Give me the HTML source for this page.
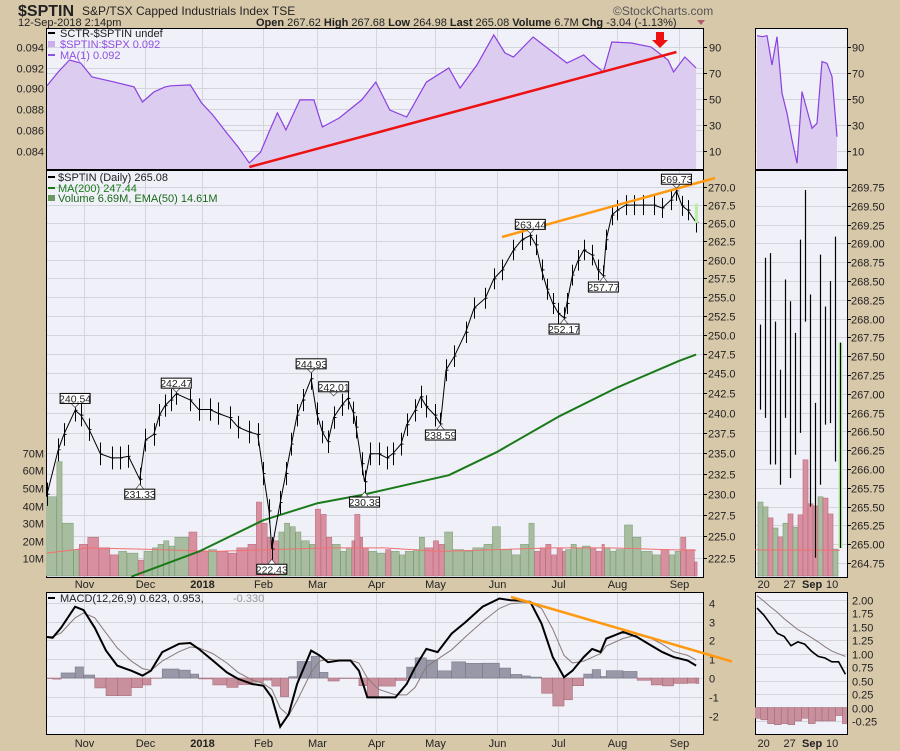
<!DOCTYPE html>
<html><head><meta charset="utf-8">
<style>
html,body{margin:0;padding:0;background:#d8c8aa;}
svg{display:block;font-family:"Liberation Sans",sans-serif;}
text{font-size:11px;fill:#222;}
</style></head>
<body>
<svg id="c" width="900" height="751" viewBox="0 0 900 751" xmlns="http://www.w3.org/2000/svg">
<rect x="0" y="0" width="900" height="751" fill="#d8c8aa"/>
<text x="18" y="16" style="font-size:16px;font-weight:bold">$SPTIN</text>
<text x="82" y="15" style="font-size:12px">S&amp;P/TSX Capped Industrials Index  TSE</text>
<text x="18" y="26" style="font-size:11px">12-Sep-2018 2:14pm</text>
<text x="256" y="26" style="font-size:11px"><tspan font-weight="bold">Open</tspan> 267.62  <tspan font-weight="bold">High</tspan> 267.68  <tspan font-weight="bold">Low</tspan> 264.98  <tspan font-weight="bold">Last</tspan> 265.08  <tspan font-weight="bold">Volume</tspan> 6.7M  <tspan font-weight="bold">Chg</tspan> -3.04 (-1.13%)</text>
<polygon points="697,20 705,20 701,25" fill="#b06070"/>
<text x="613" y="15" style="font-size:12px;fill:#555">©StockCharts.com</text>
<g id="g"></g>
</svg>
<script>
// ---- price data (trading-day index, close) ----
const priceIdx = [0,4,6,10,12,15,19,23,26,29,33,35,38,40,42,44,46,51,54,58,61,65,68,72,75,77,79,80,83,85,87,89,91,94,96,98,100,102,105,107,109,110,112,113,115,118,121,123,126,128,131,133,135,138,140,142,145,149,152,156,159,162,166,169,172,174,176,178,180,182,184,185,187,189,191,194,196,198,199,201,203,206,209,212,216,219,222,224,226,228,231];
const closes = [230.0,235.4,237.3,240.3,239.7,237.9,234.9,234.4,234.4,234.6,231.8,236.6,237.3,239.7,240.9,241.6,242.4,241.6,240.4,240.4,239.9,239.4,238.2,237.6,237.3,232.5,228.0,223.5,229.0,232.5,236.1,239.7,241.6,244.3,239.9,237.6,236.4,239.4,241.0,241.8,240.0,238.2,233.7,231.5,234.9,234.9,234.4,234.9,236.1,238.5,240.3,242.0,240.8,239.7,238.6,245.4,247.2,250.3,253.5,254.8,257.4,258.6,261.3,262.7,263.3,262.0,258.6,256.0,254.1,252.8,252.2,254.1,257.9,259.9,261.3,260.6,258.6,257.8,262.7,266.1,266.8,267.5,267.5,267.5,267.5,267.1,268.2,269.5,267.4,266.8,265.1];
const volumes = [45,65,30,15,18,22,16,12,14,13,9,14,16,18,20,17,22,25,14,15,14,13,16,18,42,30,22,20,25,30,28,25,20,18,38,35,22,18,14,16,20,35,22,16,14,13,15,14,12,14,15,22,16,20,18,25,15,14,16,18,28,15,12,18,30,14,16,18,12,16,14,15,18,16,17,16,14,18,16,14,15,29,22,14,12,15,12,14,22,15,8];
const volEmaIdx = [0,15,40,60,80,100,120,140,160,180,200,220,231];
const volEma = [13,16,15,14,15,16,16,14,15,16,16,15,14.6];
const maIdx = [30,54,77,96,112,143,160,182,203,225,231];
const ma200 = [220.3,223.2,226.9,228.9,229.9,232.3,235.1,239.5,243.2,246.6,247.4];
const annotIdx = [10,33,46,80,94,102,113,140,172,184,198,224];
const annotVals = [240.54,231.33,242.47,222.43,244.93,242.01,230.38,238.59,263.44,252.17,257.77,269.73];
const annotAbove = [1,0,1,0,1,1,0,0,1,0,0,1];
const priceTicks = [270.0,267.5,265.0,262.5,260.0,257.5,255.0,252.5,250.0,247.5,245.0,242.5,240.0,237.5,235.0,232.5,230.0,227.5,225.0,222.5];
const volTicks = [10,20,30,40,50,60,70];
const monthIdx = [13,35,55,77,96,117,138,160,182,203,225];
const monthLabels = ["Nov","Dec","2018","Feb","Mar","Apr","May","Jun","Jul","Aug","Sep"];
// ---- relative strength panel ----
const ratioIdx = [0,4,8,12,16,24,31,34,38,42,44,51,55,59,64,68,72,76,79,82,85,90,95,98,104,112,117,122,128,135,143,147,153,159,163,166,173,178,185,191,194,198,201,208,215,221,223,227,231];
const ratioVals = [0.09024,0.09157,0.09272,0.09243,0.09109,0.0906,0.09013,0.08868,0.08964,0.09013,0.09024,0.09033,0.08859,0.08743,0.0857,0.08436,0.08282,0.08387,0.0858,0.08763,0.08599,0.08888,0.08888,0.08628,0.08714,0.08888,0.0906,0.08791,0.08724,0.0906,0.09195,0.09003,0.09224,0.09513,0.09339,0.09301,0.09493,0.09388,0.09243,0.0932,0.09243,0.09157,0.09445,0.09436,0.09397,0.09272,0.09157,0.09301,0.09195];
const ratioTicks = [0.094,0.092,0.090,0.088,0.086,0.084];
const sctrTicks = [90,70,50,30,10];
// ---- MACD ----
const macdIdx = [0,2,5,10,13,17,21,25,30,34,37,41,47,51,54,59,64,68,73,77,80,83,86,89,94,97,100,104,108,111,114,118,124,128,131,135,139,144,149,155,161,165,169,172,176,180,184,187,191,194,197,199,205,210,215,219,223,228,231];
const macdVals = [2.18,2.14,2.67,3.79,3.61,2.67,1.46,0.66,0.39,0.13,0.39,1.38,1.82,1.86,1.55,0.93,0.30,-0.05,-0.32,-0.41,-1.03,-2.59,-1.93,-0.32,1.46,1.20,0.84,0.93,0.93,0.39,-1.03,-1.03,-1.03,-0.32,0.57,1.55,1.38,2.36,2.98,3.79,4.23,4.14,4.11,4.05,2.89,1.11,0.04,0.39,1.11,1.55,1.38,2.09,2.45,2.18,1.73,1.38,1.11,0.93,0.66];
const signalVals = [2.2,2.2,2.4,3.2,3.45,3.2,2.4,1.6,0.9,0.5,0.4,0.9,1.4,1.65,1.6,1.3,0.8,0.3,-0.1,-0.3,-0.6,-1.6,-2.0,-1.2,0.3,0.9,1.0,0.95,0.95,0.8,0.0,-0.6,-0.9,-0.9,-0.5,0.6,1.0,1.5,2.2,3.0,3.7,3.95,4.0,4.0,3.7,2.6,1.2,0.8,0.9,1.1,1.3,1.7,2.1,2.3,2.1,1.8,1.4,1.2,0.95];
const macdTicks = [4,3,2,1,0,-1,-2];
// ---- side (zoomed) panels ----
const sideSctr = [99,98.2,99,76.3,98.2,54.4,38.9,18.3,0.3,55.7,41.5,27.3,31.2,78.9,77.6,67.3,20.8];
const sideHigh = [267.92,268.81,268.87,267.96,267.32,268.52,268.23,267.81,269.05,269.71,268.32,266.88,268.85,268.16,268.50,269.09,267.68];
const sideLow = [266.79,266.68,266.06,266.06,265.79,266.68,265.88,266.19,266.48,267.96,265.50,264.82,265.79,266.59,266.61,266.10,264.95];
const sideVol = [16.8,15.7,13.2,10.9,8.9,12,14.1,11.1,13.9,26.4,16.4,15.9,18,17.7,14.1,6.1];
const sideUp = [1,1,0,1,0,1,0,1,0,0,0,0,1,0,0,1,0];
const sideMacd = [1.85,1.72,1.55,1.38,1.32,1.15,1.22,1.18,1.05,0.95,0.92,0.85,0.85,0.62];
const sideSignal = [2.08,1.98,1.87,1.77,1.65,1.55,1.45,1.38,1.3,1.22,1.13,1.05,1.0,0.95];
const sideHist = [-0.2,-0.23,-0.3,-0.32,-0.3,-0.32,-0.25,-0.2,-0.3,-0.25,-0.25,-0.25,-0.15,-0.3];
const sidePriceTicks = [269.75,269.50,269.25,269.00,268.75,268.50,268.25,268.00,267.75,267.50,267.25,267.00,266.75,266.50,266.25,266.00,265.75,265.50,265.25,265.00,264.75];
const sideMacdTicks = [2.00,1.75,1.50,1.25,1.00,0.75,0.50,0.25,0.00,-0.25];
const sideDayLabels = ["20","27","Sep","10"];
const sideDayPos = [-0.5,4.7,8.4,13.2];

const NS="http://www.w3.org/2000/svg";
const G=document.getElementById('g');
function mk(tag,attrs,parent){const e=document.createElementNS(NS,tag);for(const k in attrs)e.setAttribute(k,attrs[k]);(parent||G).appendChild(e);return e;}
// scales
const xOf=i=>47+i*2.81;
const yP=p=>187.3+(Math.log(270)-Math.log(p))*1914;
const yV=v=>576-v*1.76;
const yR=r=>46.7+(0.094-r)*10400;
const yC=v=>47.3+(90-v)*1.2925;
const yM=v=>678-v*18.8;
const sX=i=>760+i*5;
const yS=p=>187+(269.75-p)*75.2;
const ySV=v=>576-v*4.4;
const ySM=v=>707.5-v*53.75;
const smX=i=>757+i*6.8;

// clip paths
const defs=mk('defs',{});
[['cT',46,28,657,141],['cM',46,170,657,407],['cD',46,592,657,142],['cST',755,28,92,141],['cSM',755,170,92,407],['cSD',755,592,92,142]].forEach(a=>{const cp=mk('clipPath',{id:a[0]},defs);mk('rect',{x:a[1],y:a[2],width:a[3],height:a[4]},cp);});

function panel(x,y,w,h,name){const r=mk('rect',{x:x,y:y,width:w,height:h,fill:'#eff0f8',stroke:'#000','stroke-width':1});

}
panel(46.5,28.5,657,141,'rs-panel');
panel(46.5,170.5,657,407,'price-panel');
panel(46.5,592.5,657,142,'macd-panel');
panel(755.5,28.5,92,141,'side-rs-panel');
panel(755.5,170.5,92,407,'side-price-panel');
panel(755.5,592.5,92,142,'side-macd-panel');

function txt(x,y,s,name,anchor,extra){const t=mk('text',{x:x,y:y,'text-anchor':anchor||'start'});if(extra)t.setAttribute('style',extra);t.textContent=s;

return t;}
function grid(x1,y1,x2,y2){const l=mk('line',{x1:x1,y1:y1,x2:x2,y2:y2,stroke:'#d4d4dc','stroke-width':1});

}

monthIdx.forEach((m,k)=>{const x=Math.round(xOf(m))+0.5;
 grid(x,29,x,169);grid(x,171,x,577);grid(x,593,x,734);
 const b=monthLabels[k]==='2018'?'font-weight:bold':'';
 txt(x,588,monthLabels[k],'x-axis-label','middle',b);
 txt(x,747,monthLabels[k],'macd-x-axis-label','middle',b);});
ratioTicks.forEach(t=>{const y=Math.round(yR(t))+0.5;grid(47,y,703,y);txt(44,y+4,t.toFixed(3),'rs-left-tick','end');});
sctrTicks.forEach(t=>{const y=Math.round(yC(t))+0.5;grid(47,y,703,y);grid(756,y,847,y);txt(709,y+4,String(t),'sctr-right-tick');txt(852,y+4,String(t),'side-sctr-tick');mk('line',{x1:703,y1:y,x2:707,y2:y,stroke:'#000'});mk('line',{x1:847,y1:y,x2:851,y2:y,stroke:'#000'});});
priceTicks.forEach(t=>{const y=Math.round(yP(t))+0.5;grid(47,y,703,y);txt(708,y+4,t.toFixed(1),'price-tick');mk('line',{x1:703,y1:y,x2:707,y2:y,stroke:'#000'});});
volTicks.forEach(t=>{const y=Math.round(yV(t))+0.5;txt(44,y+4,t+'M','volume-tick','end');});
sidePriceTicks.forEach(t=>{const y=Math.round(yS(t))+0.5;grid(756,y,847,y);txt(851,y+4,t.toFixed(2),'side-price-tick');mk('line',{x1:847,y1:y,x2:851,y2:y,stroke:'#000'});});
macdTicks.forEach(t=>{const y=Math.round(yM(t))+0.5;grid(47,y,703,y);txt(709,y+4,String(t),'macd-tick');});
sideMacdTicks.forEach(t=>{const y=Math.round(ySM(t))+0.5;grid(756,y,847,y);txt(852,y+4,t.toFixed(2),'side-macd-tick');});
sideDayPos.forEach((p,k)=>{const b=sideDayLabels[k]==='Sep'?'font-weight:bold':'';txt(sX(p),588,sideDayLabels[k],'side-x-label','start',b);txt(sX(p),747,sideDayLabels[k],'side-macd-x-label','start',b);});

// ---- RS panel ----
const gT=mk('g',{'clip-path':'url(#cT)'});
let pts=ratioIdx.map((d,i)=>xOf(d).toFixed(1)+','+yR(ratioVals[i]).toFixed(1));
const rsArea=mk('polygon',{points:pts.join(' ')+' '+xOf(ratioIdx[ratioIdx.length-1])+',169 '+xOf(0)+',169',fill:'#dccdf0'},gT);


const rsLine=mk('polyline',{points:pts.join(' '),fill:'none',stroke:'#8a40e0','stroke-width':1.2},gT);


const rsTrend=mk('line',{x1:xOf(72),y1:167,x2:xOf(224),y2:52,stroke:'#ee1111','stroke-width':2.5},gT);


const arrow=mk('polygon',{points:'656,32 664,32 664,40 668,40 660,48 652,40 656,40',fill:'#ee1111'});


mk('rect',{x:48,y:32,width:7,height:2,fill:'#000'});
txt(60,37,'SCTR-$SPTIN undef','legend-sctr');
mk('rect',{x:48,y:41,width:7,height:6,fill:'#c8b0ec'});
txt(60,48,'$SPTIN:$SPX 0.092','legend-ratio','start','fill:#9050e0');
mk('rect',{x:48,y:54,width:7,height:2,fill:'#9050e0'});
txt(60,59,'MA(1) 0.092','legend-ma1','start','fill:#9050e0');

// ---- main price panel ----
const gM=mk('g',{'clip-path':'url(#cM)'});
priceIdx.forEach((d,i)=>{const x0=xOf(d)-1.4;const x1=i<priceIdx.length-1?xOf(priceIdx[i+1])-1.4:xOf(d)+1.4;
 const up=i===0||closes[i]>=closes[i-1];
 const b=mk('rect',{x:x0,y:yV(volumes[i]),width:Math.max(1.5,x1-x0-0.4),height:576-yV(volumes[i]),fill:up?'#a8bca0':'#d890a0',stroke:up?'#7a9a70':'#b86878','stroke-width':0.5},gM);
 
 });
const ve=mk('polyline',{points:volEmaIdx.map((d,i)=>xOf(d)+','+yV(volEma[i])).join(' '),fill:'none',stroke:'#f07070','stroke-width':1},gM);


const ma=mk('polyline',{points:maIdx.map((d,i)=>xOf(d)+','+yP(ma200[i]).toFixed(1)).join(' '),fill:'none',stroke:'#1a7a1a','stroke-width':2,'stroke-linejoin':'round'},gM);


const pl=mk('polyline',{points:priceIdx.map((d,i)=>xOf(d)+','+yP(closes[i]).toFixed(1)).join(' '),fill:'none',stroke:'#000','stroke-width':1},gM);


priceIdx.forEach((d,i)=>{const x=Math.round(xOf(d))+0.5;
 const b=mk('line',{x1:x,y1:yP(closes[i]+1.4),x2:x,y2:yP(closes[i]-1.4),stroke:'#000','stroke-width':1},gM);
 
 
 const t=mk('line',{x1:x,y1:yP(closes[i]),x2:x+2,y2:yP(closes[i]),stroke:'#000'},gM);
 
 });
const lastBar=mk('rect',{x:695,y:yP(267.7),width:3,height:yP(265.0)-yP(267.7),fill:'#b8f0a0'},gM);


const ot=mk('line',{x1:502,y1:237,x2:715,y2:178,stroke:'#ff9a10','stroke-width':2.5});


annotIdx.forEach((d,i)=>{const x=xOf(d);const v=annotVals[i];const py=yP(v);const up=annotAbove[i];
 const by=up?py-15:py+6;
 const tri=mk('polyline',{points:up?(x-4)+','+(by+10)+' '+x+','+(py-1)+' '+(x+4)+','+(by+10):(x-4)+','+by+' '+x+','+(py+1)+' '+(x+4)+','+by,fill:'#fff',stroke:'#555','stroke-width':0.8});
 
 
 const bx=mk('rect',{x:x-15,y:by,width:30,height:10,fill:'#fff',stroke:'#000','stroke-width':1});
 
 
 txt(x,by+9,v.toFixed(2),'price-annotation','middle','font-size:10.5px');});
mk('rect',{x:48,y:176,width:7,height:2,fill:'#000'});
txt(58,181,'$SPTIN (Daily) 265.08','legend-price');
mk('rect',{x:48,y:187,width:7,height:2,fill:'#1a7a1a'});
txt(58,192,'MA(200) 247.44','legend-ma200','start','fill:#1a7a1a');
mk('rect',{x:48,y:195,width:7,height:6,fill:'#6a9a60'});
txt(58,202,'Volume 6.69M, EMA(50) 14.61M','legend-volume','start','fill:#1a6a1a');

// ---- MACD panel ----
const gD=mk('g',{'clip-path':'url(#cD)'});
macdIdx.forEach((d,i)=>{const x0=xOf(d);const x1=i<macdIdx.length-1?xOf(macdIdx[i+1]):x0+2.8;
 const h=macdVals[i]-signalVals[i];const y0=yM(0),y1=yM(h);
 const b=mk('rect',{x:x0,y:Math.min(y0,y1),width:Math.max(1,x1-x0),height:Math.abs(y1-y0),fill:h>=0?'#9898a8':'#c8909c',stroke:h>=0?'#707080':'#a06070','stroke-width':0.5},gD);
 
 });
const sg=mk('polyline',{points:macdIdx.map((d,i)=>xOf(d)+','+yM(signalVals[i]).toFixed(1)).join(' '),fill:'none',stroke:'#8a7a78','stroke-width':1},gD);


const mc=mk('polyline',{points:macdIdx.map((d,i)=>xOf(d)+','+yM(macdVals[i]).toFixed(1)).join(' '),fill:'none',stroke:'#000','stroke-width':2},gD);


const mt=mk('line',{x1:511,y1:597,x2:732,y2:661.5,stroke:'#ff9a10','stroke-width':2.5});


mk('rect',{x:48,y:597,width:7,height:2,fill:'#000'});
txt(60,602,'MACD(12,26,9) 0.623, 0.953, ','legend-macd');
txt(233,602,'-0.330','legend-macd-hist','start','fill:#999');

// ---- side RS ----
const gST=mk('g',{'clip-path':'url(#cST)'});
let sp=sideSctr.map((v,i)=>sX(i-0.6)+','+yC(v).toFixed(1));
const sa=mk('polygon',{points:sp.join(' ')+' '+sX(15.4)+',169 '+sX(-0.6)+',169',fill:'#dccdf0'},gST);


const sl=mk('polyline',{points:sp.join(' '),fill:'none',stroke:'#8a40e0','stroke-width':1.2},gST);



// ---- side price ----
const gSM=mk('g',{'clip-path':'url(#cSM)'});
sideVol.forEach((v,i)=>{const b=mk('rect',{x:sX(i)-2,y:ySV(v),width:5,height:576-ySV(v),fill:sideUp[i]?'#a8bca0':'#d890a0',stroke:sideUp[i]?'#7a9a70':'#b86878','stroke-width':0.6},gSM);
 
 });
const sve=mk('polyline',{points:sX(-1)+','+yV(14.9)+' '+sX(16)+','+yV(14.6),fill:'none',stroke:'#f07070'},gSM);


sideHigh.forEach((h,i)=>{const x=Math.round(sX(i))+0.5;
 if(i===sideHigh.length-1){const g2=mk('rect',{x:x-2,y:yS(h),width:4,height:yS(sideLow[i])-yS(h),fill:'#b8f0a0'},gSM);
 
 }
 const b=mk('line',{x1:x,y1:yS(h),x2:x,y2:yS(sideLow[i]),stroke:'#000','stroke-width':1.2},gSM);
 
 });

// ---- side MACD ----
const gSD=mk('g',{'clip-path':'url(#cSD)'});
sideHist.forEach((h,i)=>{const b=mk('rect',{x:smX(i)-3,y:ySM(0),width:6.8,height:ySM(h)-ySM(0),fill:'#c8909c',stroke:'#a06070','stroke-width':0.5},gSD);
 
 });
const ssg=mk('polyline',{points:sideSignal.map((v,i)=>smX(i)+','+ySM(v).toFixed(1)).join(' '),fill:'none',stroke:'#8a7a78'},gSD);


const smc=mk('polyline',{points:sideMacd.map((v,i)=>smX(i)+','+ySM(v).toFixed(1)).join(' '),fill:'none',stroke:'#000','stroke-width':1.6},gSD);


</script>
</body></html>
